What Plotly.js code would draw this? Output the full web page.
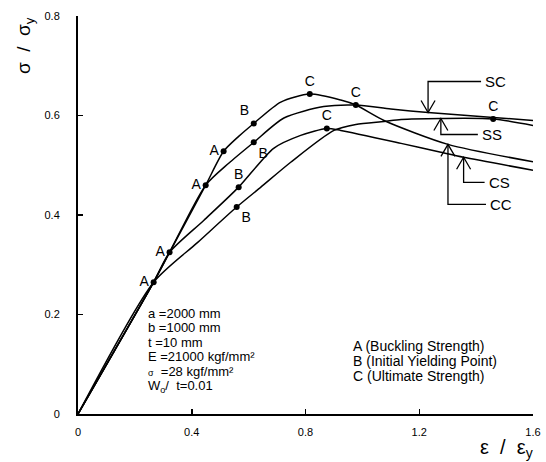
<!DOCTYPE html>
<html>
<head>
<meta charset="utf-8">
<script src="https://cdn.plot.ly/plotly-3.0.1.min.js"></script>
<style>html,body{margin:0;padding:0;background:#fff;}#chart{width:546px;height:462px;}</style>
</head>
<body>
<div id="chart"></div>
<script>
// ---- data ----
const ccX = [0, 0.266, 0.322, 0.449, 0.512, 0.565, 0.618, 0.713, 0.815, 0.924, 0.977, 1.076, 1.301, 1.6];
const ccY = [0, 0.265, 0.325, 0.460, 0.528, 0.558, 0.584, 0.627, 0.643, 0.631, 0.621, 0.590, 0.542, 0.507];

const scX = [0, 0.266, 0.322, 0.449, 0.530, 0.618, 0.724, 0.864, 0.977, 1.100, 1.231, 1.460, 1.6];
const scY = [0, 0.265, 0.325, 0.460, 0.504, 0.546, 0.595, 0.618, 0.621, 0.613, 0.606, 0.596, 0.590];

const csX = [0, 0.266, 0.322, 0.442, 0.565, 0.688, 0.783, 0.875, 0.924, 1.136, 1.276, 1.356, 1.6];
const csY = [0, 0.265, 0.325, 0.389, 0.456, 0.534, 0.560, 0.574, 0.570, 0.544, 0.526, 0.516, 0.490];

const ssX = [0, 0.266, 0.421, 0.558, 0.643, 0.748, 0.900, 0.977, 1.076, 1.136, 1.276, 1.460, 1.6];
const ssY = [0, 0.265, 0.345, 0.416, 0.456, 0.506, 0.570, 0.582, 0.588, 0.592, 0.594, 0.593, 0.580];

const pointX = [0.266, 0.322, 0.449, 0.512, 0.618, 0.618, 0.565, 0.558, 0.815, 0.977, 0.875, 1.460];
const pointY = [0.265, 0.325, 0.460, 0.528, 0.584, 0.546, 0.456, 0.416, 0.643, 0.621, 0.574, 0.593];
const pointLabel = ['A', 'A', 'A', 'A', 'B', 'B', 'B', 'B', 'C', 'C', 'C', 'C'];

const curveNames = ['CC', 'SC', 'CS', 'SS'];
const xTickVals = [0, 0.4, 0.8, 1.2, 1.6];
const xTickText = ['0', '0.4', '0.8', '1.2', '1.6'];
const yTickVals = [0, 0.2, 0.4, 0.6, 0.8];
const yTickText = ['0', '0.2', '0.4', '0.6', '0.8'];

const paramLines = ['a =2000 mm', 'b =1000 mm', 't =10 mm', 'E =21000 kgf/mm²',
  '<span style="font-size:9px">σ</span>  =28 kgf/mm²', 'W<sub>o</sub>/  t=0.01'];
const keyLines = ['A (Buckling Strength)', 'B (Initial Yielding Point)', 'C (Ultimate Strength)'];

// ---- styling / layout ----
const W = 546, H = 462;
const M = {l: 78, r: 13, t: 16, b: 48};
const plotW = W - M.l - M.r, plotH = H - M.t - M.b;
const xR = [0, 1.6], yR = [0, 0.8];
const dxp = p => p * (xR[1] - xR[0]) / plotW;   // px -> data (x)
const dyp = p => p * (yR[1] - yR[0]) / plotH;   // px -> data (y)
const FONT = 'Liberation Sans, Arial, Helvetica, sans-serif';

const posMap = {
  0: 'middle left', 1: 'middle left', 2: 'middle left', 3: 'middle left',
  4: 'top left', 5: 'bottom right', 6: 'top center', 7: 'bottom right',
  8: 'top center', 9: 'top center', 10: 'top center', 11: 'top center'
};
const textPos = pointLabel.map((_, i) => posMap[i]);

const curves = [[ccX, ccY], [scX, scY], [csX, csY], [ssX, ssY]];
const traces = curves.map((c, i) => ({
  x: c[0], y: c[1], name: curveNames[i], type: 'scatter', mode: 'lines',
  line: {color: '#000', width: 1.5, shape: 'spline', smoothing: 0.7},
  hoverinfo: 'skip', cliponaxis: false
}));
traces.push({
  x: pointX, y: pointY, text: pointLabel, type: 'scatter', mode: 'markers+text',
  textposition: textPos, marker: {color: '#000', size: 6},
  textfont: {family: FONT, size: 14, color: '#000'}, cliponaxis: false, hoverinfo: 'skip'
});

function interp(xs, ys, x) {
  for (let i = 0; i < xs.length - 1; i++) {
    if (x >= xs[i] && x <= xs[i + 1]) {
      const t = (x - xs[i]) / (xs[i + 1] - xs[i]);
      return ys[i] + t * (ys[i + 1] - ys[i]);
    }
  }
  return ys[ys.length - 1];
}

const arrowSpecs = [
  {label: 'SC', xs: scX, ys: scY, at: 1.231, dir: 'down', leg: 31, arm: 53},
  {label: 'SS', xs: ssX, ys: ssY, at: 1.276, dir: 'up', leg: 16, arm: 37},
  {label: 'CC', xs: ccX, ys: ccY, at: 1.301, dir: 'up', leg: 60, arm: 38},
  {label: 'CS', xs: csX, ys: csY, at: 1.356, dir: 'up', leg: 25, arm: 21}
];

const shapes = [];
const annotations = [];
arrowSpecs.forEach(a => {
  const tx = a.at, ty = interp(a.xs, a.ys, a.at);
  const s = a.dir === 'down' ? 1 : -1;
  const ey = ty + s * dyp(a.leg);
  const ex2 = tx + dxp(a.arm);
  const hy = ty + s * dyp(12), hw = dxp(7);
  shapes.push({type: 'path', xref: 'x', yref: 'y',
    path: `M ${tx} ${ty} L ${tx} ${ey} L ${ex2} ${ey}`,
    line: {color: '#000', width: 1.3}});
  shapes.push({type: 'path', xref: 'x', yref: 'y',
    path: `M ${tx - hw} ${hy} L ${tx} ${ty} L ${tx + hw} ${hy}`,
    line: {color: '#000', width: 1.3}});
  annotations.push({x: ex2 + dxp(2), y: ey, xref: 'x', yref: 'y', text: a.label,
    showarrow: false, xanchor: 'left', yanchor: 'middle',
    font: {family: FONT, size: 15, color: '#000'}});
});

const px2paperX = px => (px - M.l) / plotW;
const px2paperY = py => (H - M.b - py) / plotH;

paramLines.forEach((t, i) => {
  annotations.push({x: px2paperX(146), y: px2paperY(313 + i * 14.6), xref: 'paper', yref: 'paper',
    text: t, showarrow: false, xanchor: 'left', yanchor: 'middle',
    font: {family: FONT, size: 13, color: '#000'}});
});
keyLines.forEach((t, i) => {
  annotations.push({x: px2paperX(351), y: px2paperY(346 + i * 14.8), xref: 'paper', yref: 'paper',
    text: t, showarrow: false, xanchor: 'left', yanchor: 'middle',
    font: {family: FONT, size: 14, color: '#000'}});
});

annotations.push({x: px2paperX(25), y: px2paperY(46), xref: 'paper', yref: 'paper',
  text: 'σ  /  σ<sub>y</sub>', textangle: -90, showarrow: false,
  xanchor: 'center', yanchor: 'middle', font: {family: FONT, size: 19, color: '#000'}});
annotations.push({x: px2paperX(535), y: px2paperY(448), xref: 'paper', yref: 'paper',
  text: 'ε  /  ε<sub>y</sub>', showarrow: false,
  xanchor: 'right', yanchor: 'middle', font: {family: FONT, size: 20, color: '#000'}});

const layout = {
  width: W, height: H, margin: M, showlegend: false,
  paper_bgcolor: '#fff', plot_bgcolor: '#fff',
  font: {family: FONT, size: 11, color: '#000'},
  xaxis: {range: xR, tickvals: xTickVals, ticktext: xTickText, ticks: 'inside', ticklen: 5,
    tickwidth: 1.5, tickcolor: '#000', showline: true, linewidth: 2, linecolor: '#000',
    showgrid: false, zeroline: false, ticklabelstandoff: 7, tickfont: {family: FONT, size: 11, color: '#000'}},
  yaxis: {range: yR, tickvals: yTickVals, ticktext: yTickText, ticks: 'inside', ticklen: 5,
    tickwidth: 1.5, tickcolor: '#000', showline: true, linewidth: 2, linecolor: '#000',
    showgrid: false, zeroline: false, ticklabelstandoff: 14, tickfont: {family: FONT, size: 11, color: '#000'}},
  shapes: shapes, annotations: annotations
};

Plotly.newPlot('chart', traces, layout, {staticPlot: true, displayModeBar: false});
</script>
</body>
</html>
